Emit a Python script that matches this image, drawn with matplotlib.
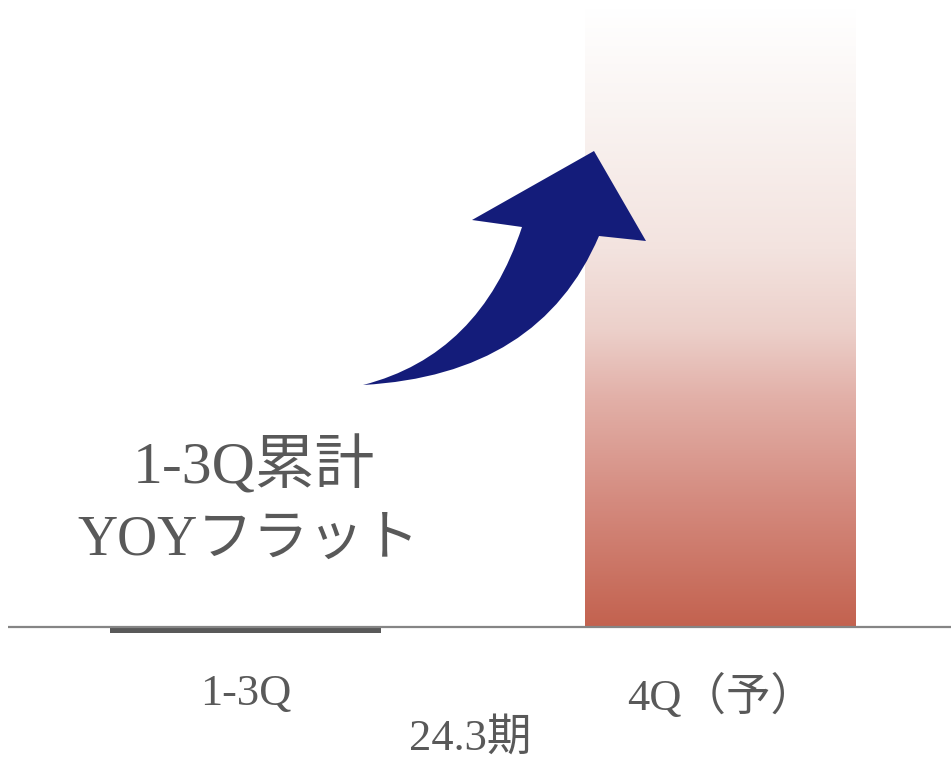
import numpy as np
import matplotlib
matplotlib.use("Agg")
import matplotlib.pyplot as plt
from matplotlib.colors import LinearSegmentedColormap
from matplotlib.path import Path
from matplotlib.patches import PathPatch

# ---- data -------------------------------------------------------------
categories = ["1-3Q", "4Q（予）"]
values = [-0.9, 100.0]          # relative scale; 1-3Q is flat YOY
period_label = "24.3期"
note_lines = ["1-3Q累計", "YOYフラット"]

# ---- style ------------------------------------------------------------
FONT = ["Liberation Serif", "Noto Sans CJK JP", "DejaVu Sans"]
TEXT_COLOR = "#595959"
FLAT_COLOR = "#595959"
AXIS_COLOR = "#858585"
ARROW_COLOR = "#141c7a"
grad_cmap = LinearSegmentedColormap.from_list(
    "rise",
    [(0.00, "#c3624f"), (0.20, "#d48a7e"), (0.37, "#e2b0a8"),
     (0.48, "#ecd0ca"), (0.61, "#f3e3df"), (0.85, "#faf5f3"),
     (1.00, "#ffffff")])

W, H, DPI = 951, 759, 100
fig = plt.figure(figsize=(W / DPI, H / DPI), dpi=DPI)

# axes geometry in pixels
left_px, right_px = 8, 951
top_px, zero_px = 8, 627
ymax = values[1]
ymin = -2.0
px_per_unit = (zero_px - top_px) / ymax
bottom_px = zero_px - ymin * px_per_unit
ax = fig.add_axes([left_px / W, 1 - bottom_px / H,
                   (right_px - left_px) / W, (bottom_px - top_px) / H])

x = np.arange(len(categories))
bar_w = 0.57
bars = ax.bar(x, values, width=bar_w, color=[FLAT_COLOR, "none"],
              edgecolor="none", zorder=2)

# vertical gradient fill for the forecast bar
rect = bars[1]
x0, y0 = rect.get_x(), rect.get_y()
grad = np.linspace(0, 1, 256).reshape(-1, 1)
im = ax.imshow(grad, cmap=grad_cmap, origin="lower", aspect="auto",
               extent=[x0, x0 + rect.get_width(), y0, y0 + rect.get_height()],
               zorder=2)
im.set_clip_path(rect)
ax.set_xlim(-0.5, 1.484)
ax.set_ylim(ymin, ymax)

ax.axhline(0, color=AXIS_COLOR, lw=1.6, zorder=3)
for s in ax.spines.values():
    s.set_visible(False)
ax.set_yticks([])
ax.set_xticks(x, categories)
ax.tick_params(axis="x", length=0, pad=25, labelsize=32, labelcolor=TEXT_COLOR)
for lbl in ax.get_xticklabels():
    lbl.set_fontfamily(FONT)

fig.text(470 / W, 1 - 750 / H, period_label, ha="center", va="baseline",
         fontsize=32, color=TEXT_COLOR, fontfamily=FONT)

# annotation text
fig.text(254 / W, 1 - 484 / H, note_lines[0], ha="center", va="baseline",
         fontsize=43, color=TEXT_COLOR, fontfamily=FONT)
fig.text(248 / W, 1 - 555 / H, note_lines[1], ha="center", va="baseline",
         fontsize=40, color=TEXT_COLOR, fontfamily=FONT)

# curved upward arrow (figure pixel outline)
def P(px, py):
    return (px / W, 1 - py / H)

verts = [P(363, 385), P(540, 375), P(599, 236),
         P(646, 241), P(594, 151), P(472, 220), P(522, 227),
         P(480, 355), P(363, 385), P(363, 385)]
codes = [Path.MOVETO, Path.CURVE3, Path.CURVE3,
         Path.LINETO, Path.LINETO, Path.LINETO, Path.LINETO,
         Path.CURVE3, Path.CURVE3, Path.CLOSEPOLY]
arrow = PathPatch(Path(verts, codes), facecolor=ARROW_COLOR,
                  edgecolor="none", transform=fig.transFigure, zorder=5)
fig.patches.append(arrow)

fig.savefig("out.png", dpi=DPI)
